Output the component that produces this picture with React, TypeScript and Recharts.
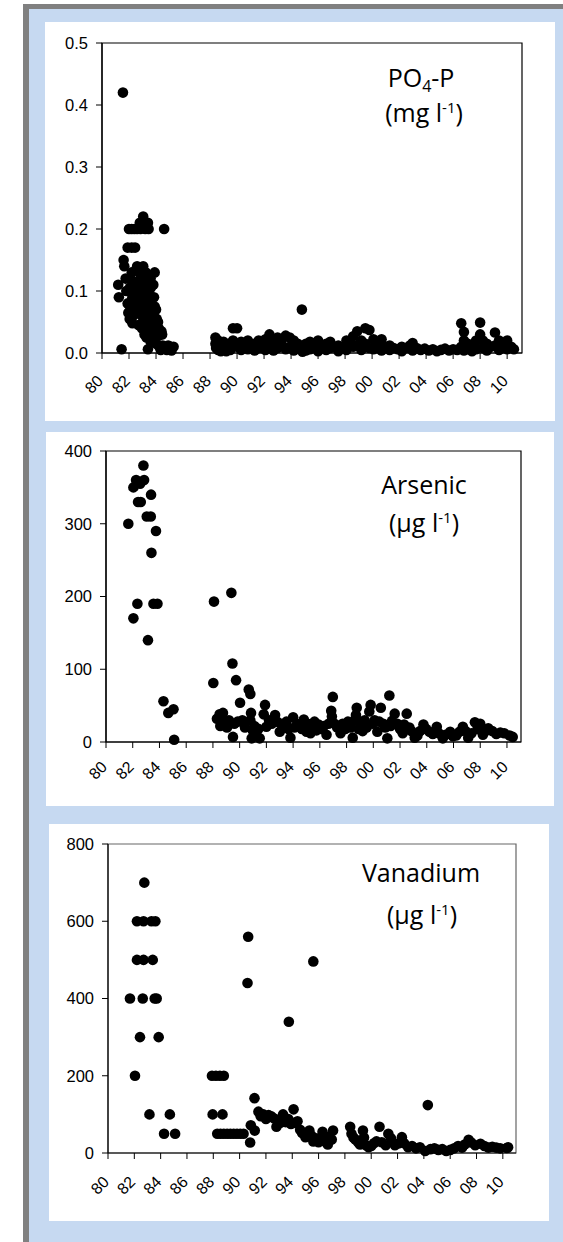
import React from "react";
import { ScatterChart, Scatter, XAxis, YAxis, ReferenceArea } from "recharts";

type Pt = [number, number];

const yearTicks = [1980, 1982, 1984, 1986, 1988, 1990, 1992, 1994, 1996, 1998, 2000, 2002, 2004, 2006, 2008, 2010];
const po4Ticks = [0, 0.1, 0.2, 0.3, 0.4, 0.5];
const arsenicTicks = [0, 100, 200, 300, 400];
const vanadiumTicks = [0, 200, 400, 600, 800];

// PO4-P, mg l-1  [year, value]
const po4: Pt[] = [
  [1981.55, 0.42],
  [1981.2, 0.11], [1981.25, 0.09], [1981.45, 0.006], [1981.6, 0.15], [1981.65, 0.14], [1981.75, 0.12], [1981.8, 0.1],
  [1981.9, 0.17], [1981.9, 0.08], [1981.95, 0.065], [1982.0, 0.2], [1982.0, 0.12], [1982.05, 0.105], [1982.05, 0.055], [1982.1, 0.07],
  [1982.2, 0.17], [1982.2, 0.2], [1982.2, 0.13], [1982.25, 0.09], [1982.25, 0.048], [1982.3, 0.075], [1982.3, 0.06],
  [1982.4, 0.2], [1982.45, 0.17], [1982.4, 0.115], [1982.45, 0.1], [1982.5, 0.085], [1982.5, 0.065],
  [1982.6, 0.2], [1982.6, 0.14], [1982.65, 0.11], [1982.65, 0.09], [1982.7, 0.07], [1982.7, 0.045],
  [1982.8, 0.21], [1982.85, 0.2], [1982.8, 0.13], [1982.85, 0.12], [1982.9, 0.1], [1982.9, 0.08], [1982.95, 0.06], [1982.95, 0.04],
  [1983.05, 0.22], [1983.0, 0.21], [1983.05, 0.14], [1983.1, 0.12], [1983.05, 0.1], [1983.1, 0.09], [1983.15, 0.07], [1983.1, 0.05], [1983.15, 0.03],
  [1983.2, 0.2], [1983.25, 0.13], [1983.25, 0.11], [1983.3, 0.095], [1983.3, 0.08], [1983.3, 0.06], [1983.35, 0.04], [1983.3, 0.025],
  [1983.4, 0.21], [1983.45, 0.2], [1983.45, 0.12], [1983.45, 0.1], [1983.5, 0.085], [1983.5, 0.07], [1983.5, 0.05], [1983.45, 0.03], [1983.4, 0.006],
  [1983.6, 0.12], [1983.6, 0.105], [1983.65, 0.09], [1983.65, 0.075], [1983.65, 0.06], [1983.7, 0.045], [1983.7, 0.03], [1983.6, 0.018],
  [1983.8, 0.11], [1983.9, 0.13], [1983.85, 0.09], [1983.9, 0.075], [1983.85, 0.055], [1983.9, 0.04], [1983.85, 0.025],
  [1984.0, 0.07], [1984.05, 0.055], [1984.0, 0.045], [1984.05, 0.035], [1984.0, 0.015],
  [1984.15, 0.05], [1984.2, 0.04], [1984.2, 0.028], [1984.25, 0.01],
  [1984.4, 0.035], [1984.45, 0.03], [1984.35, 0.005], [1984.5, 0.012],
  [1984.6, 0.2], [1984.65, 0.01], [1984.8, 0.005], [1984.9, 0.012], [1985.1, 0.01], [1985.15, 0.004], [1985.3, 0.01],
  [1988.4, 0.025], [1988.4, 0.015], [1988.45, 0.008], [1988.6, 0.02], [1988.6, 0.005], [1988.8, 0.012], [1988.8, 0.003],
  [1989.0, 0.018], [1989.0, 0.006], [1989.2, 0.01], [1989.2, 0.003], [1989.5, 0.015], [1989.5, 0.005], [1989.7, 0.04], [1989.7, 0.02],
  [1990.0, 0.04], [1990.0, 0.01], [1990.3, 0.018], [1990.3, 0.005], [1990.5, 0.012], [1990.8, 0.02], [1990.8, 0.006], [1991.0, 0.008],
  [1991.3, 0.015], [1991.3, 0.004], [1991.6, 0.02], [1991.6, 0.008], [1991.9, 0.012], [1992.1, 0.022], [1992.1, 0.005],
  [1992.4, 0.03], [1992.4, 0.01], [1992.7, 0.018], [1992.7, 0.004], [1993.0, 0.025], [1993.0, 0.008], [1993.3, 0.02], [1993.3, 0.012],
  [1993.6, 0.028], [1993.6, 0.006], [1993.9, 0.025], [1993.9, 0.01], [1994.2, 0.02], [1994.2, 0.004], [1994.5, 0.015], [1994.5, 0.008],
  [1994.8, 0.07], [1994.8, 0.01], [1994.85, 0.002], [1995.1, 0.015], [1995.1, 0.004], [1995.4, 0.018], [1995.4, 0.006], [1995.7, 0.01],
  [1996.0, 0.02], [1996.0, 0.003], [1996.3, 0.012], [1996.6, 0.015], [1996.6, 0.005], [1996.9, 0.018], [1996.9, 0.008], [1997.2, 0.01],
  [1997.5, 0.012], [1997.5, 0.003], [1997.8, 0.008], [1998.1, 0.02], [1998.1, 0.005], [1998.4, 0.015], [1998.6, 0.027], [1998.6, 0.01],
  [1998.9, 0.035], [1998.9, 0.012], [1999.2, 0.02], [1999.2, 0.005], [1999.5, 0.04], [1999.5, 0.015], [1999.8, 0.037], [1999.8, 0.008],
  [2000.1, 0.022], [2000.1, 0.006], [2000.4, 0.015], [2000.7, 0.022], [2000.7, 0.004], [2001.0, 0.01], [2001.3, 0.012], [2001.3, 0.005],
  [2001.6, 0.008], [2001.9, 0.006], [2002.2, 0.01], [2002.2, 0.003], [2002.5, 0.008], [2002.8, 0.012], [2003.0, 0.016], [2003.0, 0.004],
  [2003.3, 0.008], [2003.6, 0.005], [2003.9, 0.007], [2004.2, 0.004], [2004.5, 0.006], [2004.8, 0.003], [2005.1, 0.005], [2005.4, 0.007],
  [2005.7, 0.004], [2006.0, 0.006], [2006.3, 0.005], [2006.6, 0.048], [2006.6, 0.01], [2006.8, 0.034], [2006.8, 0.02], [2006.8, 0.004],
  [2007.1, 0.015], [2007.1, 0.006], [2007.4, 0.01], [2007.4, 0.003], [2007.7, 0.02], [2007.7, 0.006], [2008.0, 0.049], [2008.0, 0.03],
  [2008.2, 0.02], [2008.2, 0.008], [2008.5, 0.015], [2008.5, 0.004], [2008.8, 0.01], [2009.1, 0.033], [2009.1, 0.012], [2009.4, 0.02],
  [2009.4, 0.005], [2009.7, 0.008], [2010.0, 0.02], [2010.0, 0.006], [2010.3, 0.01], [2010.5, 0.006],
];

// Arsenic, ug l-1
const arsenic: Pt[] = [
  [1981.67, 300], [1982.05, 350], [1982.05, 170], [1982.25, 360], [1982.35, 190], [1982.4, 330], [1982.55, 355], [1982.6, 330],
  [1982.8, 380], [1982.85, 360], [1983.05, 310], [1983.14, 140], [1983.37, 340], [1983.35, 310], [1983.4, 260], [1983.55, 190],
  [1983.74, 290], [1983.85, 190], [1984.3, 56], [1984.66, 40], [1985.05, 45], [1985.1, 3],
  [1988.03, 81], [1988.08, 193], [1988.3, 32], [1988.5, 38], [1988.55, 22], [1988.75, 40], [1988.9, 28], [1989.05, 20], [1989.2, 30],
  [1989.38, 205], [1989.46, 108], [1989.5, 7], [1989.6, 25], [1989.73, 85], [1989.85, 28], [1990.03, 54], [1990.2, 30], [1990.4, 20],
  [1990.68, 72], [1990.8, 66], [1990.85, 40], [1990.8, 30], [1990.9, 5], [1991.0, 15], [1991.1, 22], [1991.25, 10], [1991.4, 18],
  [1991.5, 5], [1991.8, 38], [1991.9, 51], [1992.0, 21], [1992.2, 30], [1992.4, 25], [1992.65, 37], [1992.8, 28], [1993.0, 14],
  [1993.1, 25], [1993.3, 20], [1993.5, 28], [1993.65, 18], [1993.8, 6], [1994.0, 34], [1994.1, 20], [1994.3, 25], [1994.5, 22],
  [1994.65, 18], [1994.8, 31], [1995.0, 14], [1995.1, 25], [1995.3, 12], [1995.45, 20], [1995.6, 28], [1995.75, 16], [1995.9, 24],
  [1996.1, 18], [1996.3, 22], [1996.5, 10], [1996.65, 25], [1996.85, 43], [1996.9, 35], [1996.97, 62], [1997.1, 25], [1997.3, 20],
  [1997.55, 12], [1997.7, 25], [1997.9, 18], [1998.1, 28], [1998.3, 20], [1998.46, 6], [1998.6, 30], [1998.7, 37], [1998.76, 47],
  [1998.9, 18], [1999.05, 27], [1999.2, 15], [1999.35, 30], [1999.5, 20], [1999.7, 42], [1999.8, 51], [1999.95, 25], [2000.1, 30],
  [2000.3, 14], [2000.45, 28], [2000.56, 47], [2000.75, 25], [2000.9, 20], [2001.05, 5], [2001.2, 64], [2001.3, 22], [2001.4, 29],
  [2001.6, 39], [2001.8, 25], [2002.0, 18], [2002.2, 12], [2002.3, 24], [2002.5, 39], [2002.7, 20], [2002.85, 15], [2003.1, 6],
  [2003.3, 9], [2003.5, 15], [2003.75, 24], [2003.95, 18], [2004.2, 14], [2004.45, 11], [2004.75, 21], [2004.9, 12], [2005.2, 5],
  [2005.4, 10], [2005.75, 14], [2005.95, 8], [2006.2, 9], [2006.45, 14], [2006.7, 21], [2006.9, 15], [2007.1, 6], [2007.35, 12],
  [2007.6, 27], [2007.8, 18], [2008.0, 25], [2008.15, 14], [2008.2, 10], [2008.4, 15], [2008.6, 19], [2008.9, 15], [2009.2, 11],
  [2009.5, 13], [2009.8, 12], [2010.2, 9], [2010.43, 7],
];

// Vanadium, ug l-1
const vanadium: Pt[] = [
  [1981.67, 400], [1982.05, 200], [1982.2, 600], [1982.2, 500], [1982.43, 300], [1982.64, 400], [1982.7, 600], [1982.7, 500],
  [1982.76, 700], [1983.15, 100], [1983.3, 600], [1983.4, 500], [1983.6, 600], [1983.55, 400], [1983.7, 400], [1983.85, 300],
  [1984.26, 50], [1984.7, 100], [1985.1, 50],
  [1987.9, 200], [1987.95, 100], [1988.2, 200], [1988.5, 200], [1988.8, 200], [1988.3, 50], [1988.7, 100], [1988.55, 50],
  [1988.8, 50], [1989.05, 50], [1989.3, 50], [1989.55, 50], [1989.8, 50], [1990.05, 50], [1990.3, 50], [1990.6, 440], [1990.65, 560],
  [1990.8, 27], [1990.85, 72], [1991.13, 142], [1991.15, 58], [1991.43, 107], [1991.6, 95], [1991.8, 100], [1992.0, 88],
  [1992.2, 98], [1992.4, 95], [1992.6, 90], [1992.8, 68], [1992.9, 85], [1993.1, 78], [1993.3, 100], [1993.5, 80], [1993.7, 88],
  [1993.74, 340], [1993.9, 75], [1994.1, 113], [1994.2, 78], [1994.4, 82], [1994.6, 60], [1994.75, 52], [1995.0, 41], [1995.15, 50],
  [1995.3, 58], [1995.45, 45], [1995.6, 30], [1995.6, 496], [1995.8, 38], [1996.0, 28], [1996.2, 40], [1996.3, 55], [1996.5, 30],
  [1996.7, 22], [1996.8, 42], [1997.1, 58], [1997.0, 35],
  [1998.4, 68], [1998.5, 50], [1998.65, 40], [1998.8, 35], [1999.0, 28], [1999.15, 22], [1999.37, 58], [1999.45, 40], [1999.6, 20],
  [1999.8, 15], [2000.0, 18], [2000.2, 25], [2000.4, 30], [2000.63, 68], [2000.8, 28], [2001.1, 20], [2001.3, 50], [2001.5, 38],
  [2001.8, 20], [2002.1, 25], [2002.33, 41], [2002.5, 25], [2002.8, 15], [2003.1, 18], [2003.4, 12], [2003.7, 15], [2004.1, 5],
  [2004.3, 124], [2004.5, 10], [2004.8, 12], [2005.1, 8], [2005.4, 10], [2005.7, 5], [2006.0, 8], [2006.3, 12], [2006.6, 18],
  [2006.9, 14], [2007.1, 22], [2007.4, 34], [2007.6, 27], [2007.9, 20], [2008.3, 24], [2008.6, 18], [2008.9, 14], [2009.2, 16],
  [2009.5, 14], [2009.8, 12], [2010.3, 13], [2010.4, 15],
];

const tickFont = "'Liberation Sans', Arial, sans-serif";
const titleFont = "'Open Sans', 'Noto Sans', sans-serif";

function YearTick(props: any) {
  const { x, y, payload, shift } = props;
  const label = String(Math.round(payload.value) % 100).padStart(2, "0");
  return (
    <text
      transform={`translate(${x - 1},${y + shift}) rotate(-45)`}
      textAnchor="end"
      dominantBaseline="middle"
      fontSize={16}
      fontFamily={tickFont}
      fill="#000"
    >
      {label}
    </text>
  );
}

const Dot = (p: any) => <circle cx={p.cx} cy={p.cy} r={5.3} fill="#000" />;

interface PanelProps {
  left: number;
  top: number;
  width: number;
  height: number;
  plotLeft: number;
  plotTop: number;
  plotRight: number;
  plotBottom: number;
  xMax: number;
  yMax: number;
  yTicks: number[];
  yFmt: (v: number) => string;
  points: Pt[];
  shift: number;
  frame: string;
}

function Panel(p: PanelProps) {
  const rows = p.points.map(([year, value]) => ({ year, value }));
  return (
    <div style={{ position: "absolute", left: p.left, top: p.top, width: p.width, height: p.height, background: "#fff" }}>
      <ScatterChart
        width={p.width}
        height={p.height}
        margin={{ top: p.plotTop, right: p.plotRight, left: 0, bottom: 0 }}
      >
        <ReferenceArea x1={1980} x2={p.xMax} y1={0} y2={p.yMax} fill="none" stroke={p.frame} strokeWidth={1.2} ifOverflow="visible" />
        <XAxis
          dataKey="year"
          type="number"
          domain={[1980, p.xMax]}
          ticks={yearTicks}
          interval={0}
          height={p.plotBottom}
          tickMargin={0}
          tickSize={6}
          stroke="#000"
          axisLine={{ stroke: "#000", strokeWidth: 1.2 }}
          tickLine={{ stroke: "#000" }}
          tick={(t: any) => <YearTick {...t} shift={p.shift} />}
        />
        <YAxis
          dataKey="value"
          type="number"
          domain={[0, p.yMax]}
          ticks={p.yTicks}
          interval={0}
          width={p.plotLeft}
          tickSize={6}
          tickMargin={8}
          tickFormatter={p.yFmt}
          axisLine={{ stroke: "#000", strokeWidth: 1.2 }}
          tickLine={{ stroke: "#000" }}
          tick={{ fontSize: 16.5, fontFamily: tickFont, fill: "#000" }}
        />
        <Scatter data={rows} fill="#000" shape={Dot} isAnimationActive={false} />
      </ScatterChart>
    </div>
  );
}

export default function App() {
  return (
    <div style={{ position: "absolute", left: 0, top: 0, width: 563, height: 1242, background: "#fff", overflow: "hidden" }}>
      <div style={{ position: "absolute", left: 23, top: 4, width: 540, height: 1238, background: "#808080" }} />
      <div style={{ position: "absolute", left: 29, top: 9, width: 534, height: 1233, background: "#C6D9F1" }} />

      <Panel
        left={45} top={22} width={510} height={399}
        plotLeft={57} plotTop={21} plotRight={33} plotBottom={68}
        xMax={2011.1} yMax={0.5} yTicks={po4Ticks} yFmt={(v) => v.toFixed(1)}
        points={po4} shift={20} frame="#000"
      />
      <Panel
        left={46} top={432} width={508} height={374}
        plotLeft={60} plotTop={19} plotRight={33} plotBottom={64}
        xMax={2011.05} yMax={400} yTicks={arsenicTicks} yFmt={(v) => String(v)}
        points={arsenic} shift={17} frame="#000"
      />
      <Panel
        left={49} top={824} width={500} height={397}
        plotLeft={59} plotTop={20} plotRight={33} plotBottom={68}
        xMax={2011} yMax={800} yTicks={vanadiumTicks} yFmt={(v) => String(v)}
        points={vanadium} shift={21} frame="#666"
      />

      <svg width={563} height={1242} style={{ position: "absolute", left: 0, top: 0, pointerEvents: "none" }}>
        <g fontFamily={titleFont} fontSize={25} fill="#000" textAnchor="middle">
          <text x={421} y={87}>
            PO<tspan dy={5} fontSize={16}>4</tspan><tspan dy={-5}>-P</tspan>
          </text>
          <text x={424} y={122}>
            (mg l<tspan dy={-9} fontSize={15}>-1</tspan><tspan dy={9}>)</tspan>
          </text>
          <text x={424} y={494}>Arsenic</text>
          <text x={424} y={532}>
            (µg l<tspan dy={-9} fontSize={15}>-1</tspan><tspan dy={9}>)</tspan>
          </text>
          <text x={421} y={882}>Vanadium</text>
          <text x={422} y={924}>
            (µg l<tspan dy={-9} fontSize={15}>-1</tspan><tspan dy={9}>)</tspan>
          </text>
        </g>
      </svg>
    </div>
  );
}
